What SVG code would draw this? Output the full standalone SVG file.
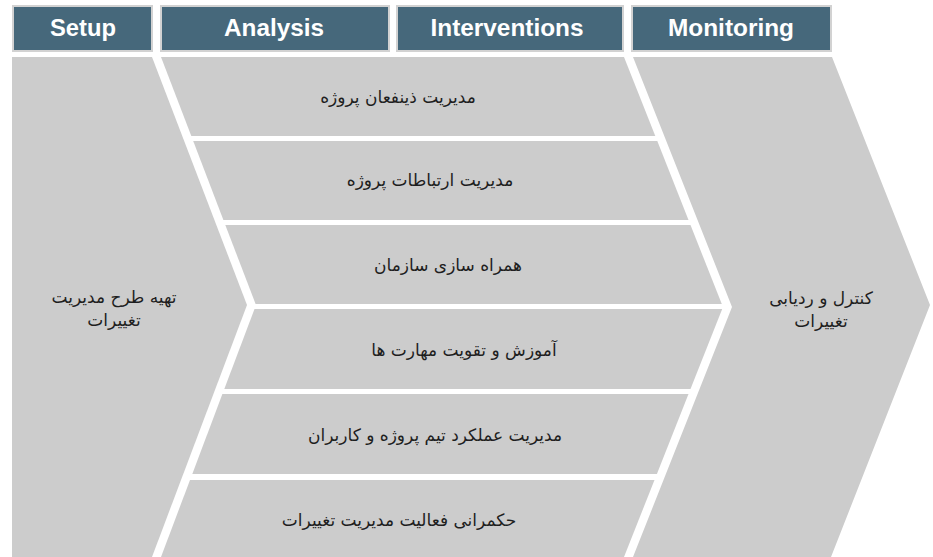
<svg xmlns="http://www.w3.org/2000/svg" width="933" height="557" viewBox="0 0 933 557">
<style>
.hdr{fill:#46687b;stroke:#d2d2d2;stroke-width:2}
.ht{font-family:"Liberation Sans",Arial,sans-serif;font-weight:bold;font-size:23px;fill:#ffffff;text-anchor:middle}
.sh{fill:#cccccc}
.t{font-family:"DejaVu Sans",sans-serif;font-size:17px;fill:#1e1e1e;text-anchor:middle;direction:rtl}
</style>
<rect width="933" height="557" fill="#ffffff"/>
<g id="headers">
<g id="h-setup"><rect class="hdr" x="13" y="6" width="139" height="45"/><text class="ht" x="83" y="36" textLength="66" lengthAdjust="spacingAndGlyphs">Setup</text></g>
<g id="h-analysis"><rect class="hdr" x="161" y="6" width="228" height="45"/><text class="ht" x="274" y="36" textLength="100" lengthAdjust="spacingAndGlyphs">Analysis</text></g>
<g id="h-interventions"><rect class="hdr" x="397" y="6" width="226" height="45"/><text class="ht" x="507" y="36" textLength="153" lengthAdjust="spacingAndGlyphs">Interventions</text></g>
<g id="h-monitoring"><rect class="hdr" x="632" y="6" width="199" height="45"/><text class="ht" x="731" y="36" textLength="126" lengthAdjust="spacingAndGlyphs">Monitoring</text></g>
</g>
<g id="setup">
<polygon class="sh" points="12,57 152,57 247,305 152,557 12,557"/>
<text class="t" x="114" y="303">تهیه طرح مدیریت</text>
<text class="t" x="114" y="326">تغییرات</text>
</g>
<g id="stripe1"><polygon class="sh" points="161,57 624,57 655.3,136 191.3,136"/><text class="t" x="398" y="103">مدیریت ذینفعان پروژه</text></g>
<g id="stripe2"><polygon class="sh" points="193.2,141 657.3,141 688.5,220 223.4,220"/><text class="t" x="430" y="186">مدیریت ارتباطات پروژه</text></g>
<g id="stripe3"><polygon class="sh" points="225.3,225 690.5,225 721.8,304 255.6,304"/><text class="t" x="448" y="271">همراه سازی سازمان</text></g>
<g id="stripe4"><polygon class="sh" points="254.5,309 722.2,309 690.5,389 224.3,389"/><text class="t" x="464" y="356">آموزش و تقویت مهارت ها</text></g>
<g id="stripe5"><polygon class="sh" points="222.4,394 688.5,394 656.9,474 192.3,474"/><text class="t" x="435" y="441">مدیریت عملکرد تیم پروژه و کاربران</text></g>
<g id="stripe6"><polygon class="sh" points="190,480 654.5,480 624,557 161,557"/><text class="t" x="399" y="526">حکمرانی فعالیت مدیریت تغییرات</text></g>
<g id="monitoring">
<polygon class="sh" points="633,57 832,57 930,305 831,557 633,557 732,307"/>
<text class="t" x="821" y="304">کنترل و ردیابی</text>
<text class="t" x="821" y="327">تغییرات</text>
</g>
<g id="connectors"/>
</svg>
